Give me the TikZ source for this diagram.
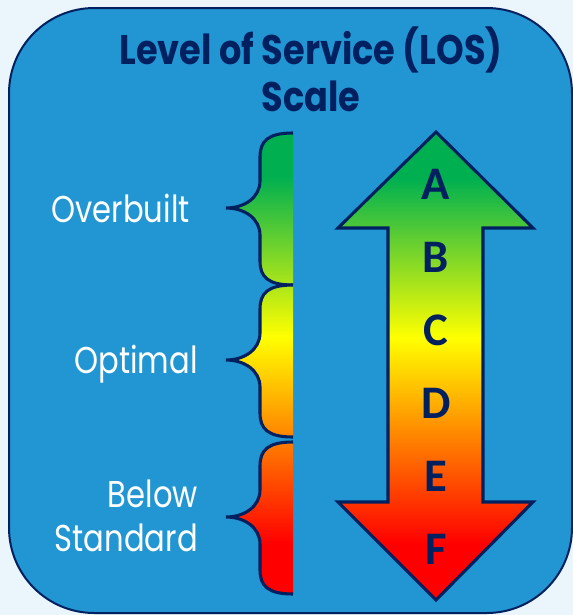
\documentclass[tikz,border=0pt]{standalone}
\usepackage{fontspec}
\setmainfont{Poppins}
\newfontfamily\losfont{Poppins}[FakeStretch=0.82]
\newfontfamily\losheadfont{Poppins}[FakeStretch=0.85]
\newfontfamily\gradefont{Carlito}
\usepackage{tikz}

\definecolor{losnavy}{RGB}{0,32,96}
\definecolor{losblue}{RGB}{34,150,210}
\definecolor{lospage}{RGB}{234,245,252}
\definecolor{losgreen}{RGB}{0,176,80}
\definecolor{losyellow}{RGB}{255,255,0}
\definecolor{losorange}{RGB}{255,150,0}
\definecolor{losred}{RGB}{255,0,0}

\pgfdeclareverticalshading{losscale}{100bp}{color(0bp)=(losred); color(31bp)=(losred); color(44bp)=(losorange); color(53bp)=(losyellow); color(70bp)=(losgreen); color(100bp)=(losgreen)}

% one curly bracket, drawn from its upper right end
\newcommand{\losbracepath}{(0,0) .. controls (-25,0) and (-33,8) .. (-33,24) -- (-33,48) .. controls (-33,64) and (-48,75) .. (-67,75) .. controls (-48,75) and (-33,86) .. (-33,102) -- (-33,128) .. controls (-33,144) and (-25,152) .. (0,152)}

\tikzset{
  losline/.style={draw=losnavy, line width=2.3pt, line join=miter},
  titletext/.style={text=losnavy, font=\losheadfont\bfseries\fontsize{31}{35}\selectfont, align=center, inner sep=0.75pt},
  bandtext/.style={text=white, font=\losfont\fontsize{28}{33}\selectfont, align=right, inner sep=0.75pt},
  gradetext/.style={text=losnavy, font=\gradefont\bfseries\fontsize{35}{35}\selectfont, inner sep=0.75pt}
}

\begin{document}
\begin{tikzpicture}[x=0.75pt,y=0.75pt,yscale=-1,xscale=1]
\useasboundingbox (0,0) rectangle (573,615);
\fill [lospage] (0,0) rectangle (573,615);
% panel
\draw [losnavy, line width=1.5pt, fill=losblue, rounded corners=64pt] (9,8) rectangle (572,613);
\node [titletext] (title) at (311,69) {Level of Service (LOS)\\Scale};

% brackets on the left
\foreach \y/\name in {133/over, 285/opt, 442/below} {
  \begin{scope}
    \clip [shift={(293,\y)}] \losbracepath -- cycle;
    \shade [shading=losscale] (200,130) rectangle (300,600);
  \end{scope}
  \draw [losline, shift={(293,\y)}] \losbracepath;
}
\node [bandtext, anchor=east] (over) at (191,208) {Overbuilt};
\node [bandtext, anchor=east] (opt) at (199,364) {Optimal};
\node [bandtext, anchor=east] (below) at (199,516) {Below\\Standard};

% double arrow
\shade [shading=losscale, losline] (436,132) -- (533,228) -- (483,228) -- (483,502) -- (533,502) -- (436,600) -- (338,502) -- (388,502) -- (388,228) -- (338,228) -- cycle;
\foreach \g [count=\i from 0] in {A,B,C,D,E,F}
  \node [gradetext] (grade\g) at (436,184+73*\i) {\g};
\end{tikzpicture}
\end{document}
